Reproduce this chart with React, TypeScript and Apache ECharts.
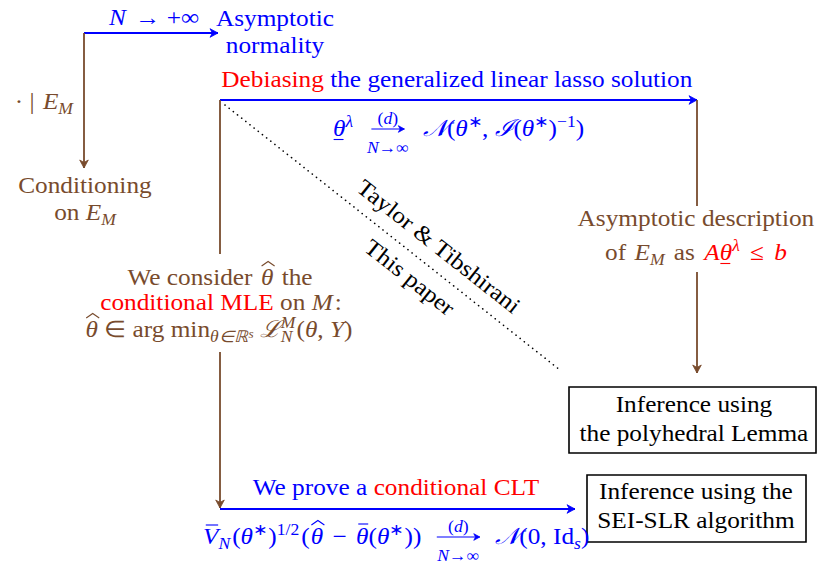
import React, { useEffect, useRef } from "react";
import * as echarts from "echarts";

// ---- texts of the diagram ----
const TOP_LABEL = ["N", " → +∞"];
const TOP_NODE = ["Asymptotic", "normality"];
const COND_LABEL = ["· | ", "E", "M"];
const COND_NODE = ["Conditioning", "on ", "E", "M"];
const DEBIAS = ["Debiasing", " the generalized linear lasso solution"];
const ASYM_DESC = ["Asymptotic description", "of ", " as "];
const POLY_BOX = ["Inference using", "the polyhedral Lemma"];
const SEI_BOX = ["Inference using the", "SEI-SLR algorithm"];
const CONSIDER = ["We consider ", " the", "conditional MLE", " on ", ":"];
const CLT = ["We prove a ", "conditional CLT"];
const DIAG = ["Taylor & Tibshirani", "This paper"];
const CONV_TOP = ["(", "d", ")"];
const CONV_BOT = ["N", "→∞"];

const BROWN = "#784b2d";
const BLUE = "#0000ff";
const RED = "#ff0000";
const BLACK = "#000000";
const FONT = "'Liberation Serif'";
const FS = 23;
const SFS = 16;
const SSFS = 12;
const SX = 1.1;

type Tok = {
  t: string;
  c: string;
  it?: boolean;
  s?: number;
  dy?: number;
  deco?: "hat" | "bar" | "under";
  stack?: [string, string]; // sup, sub
  conv?: [number, number]; // arrow length, padding
  gap?: number;
};

const n = (t: string, c: string): Tok => ({ t, c });
const i = (t: string, c: string, deco?: Tok["deco"]): Tok => ({ t, c, it: true, deco });
const sub = (t: string, c: string, it = true): Tok => ({ t, c, it, s: SFS, dy: 5 });
const sup = (t: string, c: string, it = false): Tok => ({ t, c, it, s: SFS, dy: -9 });
const g = (w: number): Tok => ({ t: "", c: "", gap: w });

let ctx: CanvasRenderingContext2D | null = null;
function mw(t: string, size: number, italic?: boolean) {
  if (!ctx) ctx = document.createElement("canvas").getContext("2d");
  ctx!.font = `${italic ? "italic " : ""}${size}px ${FONT}, serif`;
  return ctx!.measureText(t).width * SX;
}

function txt(x: number, y: number, t: string, color: string, size: number, italic?: boolean, align = "left", rot = 0) {
  return {
    type: "text",
    x,
    y,
    scaleX: SX,
    rotation: rot,
    silent: true,
    style: {
      text: t,
      fill: color,
      fontFamily: FONT + ", serif",
      fontSize: size,
      fontStyle: italic ? "italic" : "normal",
      align,
      verticalAlign: "middle",
    },
  };
}

function L(x1: number, y1: number, x2: number, y2: number, color: string, w = 1.8, dash?: number[]) {
  return {
    type: "line",
    silent: true,
    shape: { x1, y1, x2, y2 },
    style: { stroke: color, lineWidth: w, lineDash: dash, lineCap: dash ? "round" : "butt" },
  };
}

function head(x1: number, y1: number, x2: number, y2: number, color: string, len = 8, half = 4.3) {
  const dx = x2 - x1, dy = y2 - y1;
  const d = Math.sqrt(dx * dx + dy * dy);
  const ux = dx / d, uy = dy / d;
  const px = -uy, py = ux;
  const bx = x2 - ux * len, by = y2 - uy * len;
  const nx = x2 - ux * len * 0.7, ny = y2 - uy * len * 0.7;
  return {
    type: "polygon",
    silent: true,
    shape: { points: [[x2, y2], [bx + px * half, by + py * half], [nx, ny], [bx - px * half, by - py * half]] },
    style: { fill: color, stroke: color, lineWidth: 0.8, lineJoin: "round" },
  };
}

function A(x1: number, y1: number, x2: number, y2: number, color: string, w = 1.8) {
  return [L(x1, y1, x2, y2, color, w), head(x1, y1, x2, y2, color)];
}

// pieces laid side by side around a centre, each with its own style
function centred(cx: number, y: number, parts: [string, boolean][], color: string) {
  const ws = parts.map(([t, it]) => mw(t, SFS, it));
  let x = cx - ws.reduce((a, b) => a + b, 0) / 2;
  return parts.map(([t, it], k) => {
    const e = txt(x, y, t, color, SFS, it);
    x += ws[k];
    return e;
  });
}

// tiny typesetter: lays tokens on a baseline
function line(x: number, base: number, toks: Tok[], align: "left" | "center" | "right" = "center") {
  const widths = toks.map((tk) => {
    if (tk.gap != null) return tk.gap;
    if (tk.conv) return tk.conv[0] + 2 * tk.conv[1];
    if (tk.stack) return Math.max(mw(tk.stack[0], SFS, true), mw(tk.stack[1], SFS, true)) + 1;
    return mw(tk.t, tk.s || FS, tk.it);
  });
  const W = widths.reduce((a, b) => a + b, 0);
  let cur = align === "left" ? x : align === "center" ? x - W / 2 : x - W;
  const out: any[] = [];
  toks.forEach((tk, k) => {
    const w = widths[k];
    const size = tk.s || FS;
    const b = base + (tk.dy || 0);
    if (tk.gap != null) {
      // spacing only
    } else if (tk.conv) {
      const cx = cur + w / 2;
      const h = tk.conv[0] / 2;
      out.push(...centred(cx, base - 17, [[CONV_TOP[0], false], [CONV_TOP[1], true], [CONV_TOP[2], false]], tk.c));
      out.push(L(cx - h, base - 7, cx + h, base - 7, tk.c, 1.1));
      out.push(head(cx - h, base - 7, cx + h, base - 7, tk.c, 6, 3.3));
      out.push(...centred(cx, base + 12, [[CONV_BOT[0], true], [CONV_BOT[1], false]], tk.c));
    } else if (tk.stack) {
      out.push(txt(cur, base - 9 - 0.34 * SFS, tk.stack[0], tk.c, SFS, true));
      out.push(txt(cur, base + 5 - 0.34 * SFS, tk.stack[1], tk.c, SFS, true));
    } else {
      out.push(txt(cur, b - 0.34 * size, tk.t, tk.c, size, tk.it));
      if (tk.deco === "hat") {
        const cx = cur + w * 0.58;
        out.push({
          type: "polyline",
          silent: true,
          shape: { points: [[cx - 6.5, b - 19], [cx, b - 23.5], [cx + 6.5, b - 19]] },
          style: { stroke: tk.c, lineWidth: 1.1, fill: null },
        });
      } else if (tk.deco === "bar") {
        const top = tk.t === "V" ? b - 19 : b - 20;
        out.push(L(cur + w * 0.18, top, cur + w * 0.98, top, tk.c, 1.1));
      } else if (tk.deco === "under") {
        out.push(L(cur + w * 0.05, b + 3.5, cur + w * 0.85, b + 3.5, tk.c, 1.1));
      }
    }
    cur += w;
  });
  return out;
}

export default function App() {
  const ref = useRef<HTMLDivElement>(null);
  useEffect(() => {
    if (!ref.current) return;
    const chart = echarts.init(ref.current, undefined, { renderer: "svg" });
    const dAng = -Math.atan2(370 - 105, 560 - 225);
    const B = BROWN, U = BLUE, R = RED, K = BLACK;
    const elements: any[] = [
      // top-left arrows
      ...A(84, 33, 218, 33, U),
      ...A(84, 33, 84, 168, B),
      ...line(154, 25, [i(TOP_LABEL[0], U), g(3), n(TOP_LABEL[1], U)]),
      ...line(275, 26, [n(TOP_NODE[0], U)]),
      ...line(275, 53, [n(TOP_NODE[1], U)]),
      ...line(73, 109, [n(COND_LABEL[0], B), g(2), i(COND_LABEL[1], B), sub(COND_LABEL[2], B)], "right"),
      ...line(85, 193, [n(COND_NODE[0], B)]),
      ...line(85, 220, [n(COND_NODE[1], B), i(COND_NODE[2], B), sub(COND_NODE[3], B)]),

      // debiasing arrow
      ...A(220, 100, 697, 100, U),
      ...line(457, 87, [n(DEBIAS[0], R), n(DEBIAS[1], U)]),
      ...line(333, 136, [
        i("θ", U, "under"), sup("λ", U, true), n(" ", U), { t: "", c: U, conv: [33, 12] }, n(" ", U),
        i("𝒩", U), n("(", U), i("θ", U), sup("∗", U), n(", ", U), i("ℐ", U), n("(", U), i("θ", U), sup("∗", U), n(")", U), sup("−1", U), n(")", U),
      ], "left"),

      // left brown vertical
      L(220, 100, 220, 254, B),
      ...A(220, 352, 220, 508, B),
      ...line(220, 285, [n(CONSIDER[0], B), g(2), i("θ", B, "hat"), g(2), n(CONSIDER[1], B)]),
      ...line(221, 310, [n(CONSIDER[2], R), n(CONSIDER[3], B), i("M", B), g(2), n(CONSIDER[4], B)]),
      ...line(219, 337, [
        i("θ", B, "hat"), n(" ∈ arg min", B), sub("θ∈ℝ", B), { t: "s", c: B, it: true, s: SSFS, dy: 1 }, n(" ", B),
        i("ℒ", B), { t: "", c: B, stack: ["M", "N"] }, n("(", B), i("θ", B), n(", ", B), i("Y", B), n(")", B),
      ]),

      // dotted diagonal
      L(225, 105, 560, 370, K, 1.6, [0.1, 5.2]),
      txt(439, 246, DIAG[0], K, FS, false, "center", dAng),
      txt(410, 277, DIAG[1], K, FS, false, "center", dAng),

      // right side
      L(697, 100, 697, 206, B),
      ...line(696, 226, [n(ASYM_DESC[0], B)]),
      ...line(696, 260, [
        n(ASYM_DESC[1], B), g(2), i("E", B), sub("M", B), g(3), n(ASYM_DESC[2], B), g(3),
        i("A", R), i("θ", R, "under"), sup("λ", R, true), g(4), n(" ≤ ", R), g(4), i("b", R),
      ]),
      ...A(697, 272, 697, 373, B),
      {
        type: "rect",
        silent: true,
        shape: { x: 569, y: 387, width: 247, height: 66 },
        style: { fill: "#fff", stroke: K, lineWidth: 1.6 },
      },
      ...line(694, 412, [n(POLY_BOX[0], K)]),
      ...line(694, 441, [n(POLY_BOX[1], K)]),

      // bottom
      ...A(220, 509, 575, 509, U),
      ...line(396, 495, [n(CLT[0], U), n(CLT[1], R)]),
      {
        type: "rect",
        silent: true,
        shape: { x: 587, y: 475, width: 219, height: 67 },
        style: { fill: "#fff", stroke: K, lineWidth: 1.6 },
      },
      ...line(696, 499, [n(SEI_BOX[0], K)]),
      ...line(696, 528, [n(SEI_BOX[1], K)]),
      ...line(203, 544, [
        i("V", U, "bar"), sub("N", U), g(2), n("(", U), i("θ", U), sup("∗", U), g(1), n(")", U), sup("1/2", U), g(2),
        n("(", U), g(1), i("θ", U, "hat"), g(3), n(" − ", U), g(3), i("θ", U, "bar"), n("(", U), i("θ", U), sup("∗", U), g(1), n("))", U),
        n(" ", U), { t: "", c: U, conv: [43, 9] }, n(" ", U),
        i("𝒩", U), n("(0, Id", U), sub("s", U), n(")", U),
      ], "left"),
    ];
    chart.setOption({ animation: false, backgroundColor: "#ffffff", graphic: { elements } });
    return () => chart.dispose();
  }, []);
  return <div ref={ref} style={{ position: "absolute", left: 0, top: 0, width: 817, height: 567 }} />;
}
